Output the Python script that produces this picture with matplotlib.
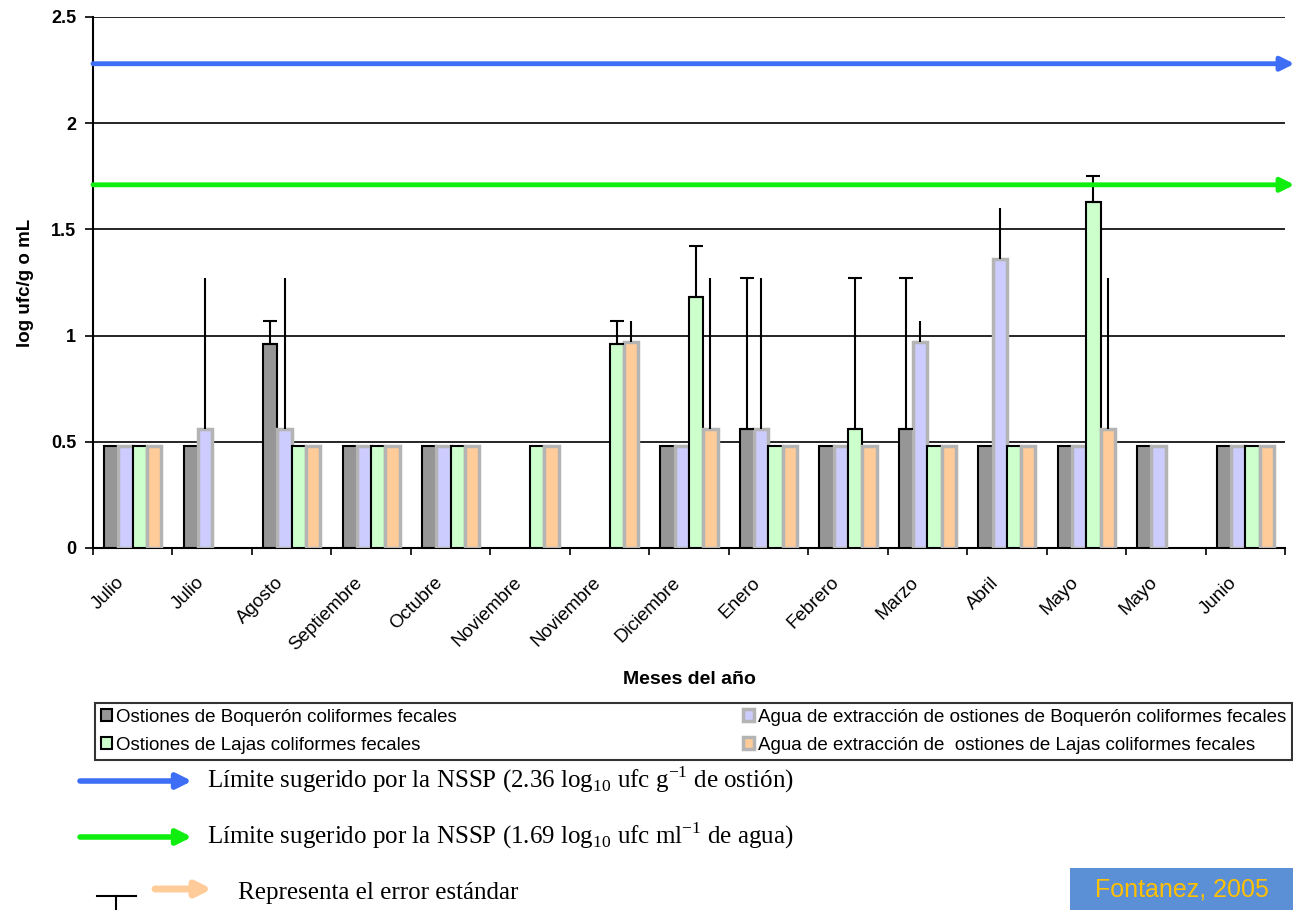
import numpy as np
import matplotlib
matplotlib.use('Agg')
import matplotlib.pyplot as plt
import matplotlib.transforms as mtransforms
from matplotlib.patches import Rectangle, FancyArrowPatch
from matplotlib.lines import Line2D

nan = np.nan

months = ['Julio', 'Julio', 'Agosto', 'Septiembre', 'Octubre', 'Noviembre', 'Noviembre',
          'Diciembre', 'Enero', 'Febrero', 'Marzo', 'Abril', 'Mayo', 'Mayo', 'Junio']

# bar heights (log ufc/g o mL)
ost_boqueron = [0.48, 0.48, 0.96, 0.48, 0.48, nan, nan, 0.48, 0.56, 0.48, 0.56, 0.48, 0.48, 0.48, 0.48]
agua_boqueron = [0.48, 0.56, 0.56, 0.48, 0.48, nan, nan, 0.48, 0.56, 0.48, 0.97, 1.36, 0.48, 0.48, 0.48]
ost_lajas = [0.48, nan, 0.48, 0.48, 0.48, 0.48, 0.96, 1.18, 0.48, 0.56, 0.48, 0.48, 1.63, nan, 0.48]
agua_lajas = [0.48, nan, 0.48, 0.48, 0.48, 0.48, 0.97, 0.56, 0.48, 0.48, 0.48, 0.48, 0.56, nan, 0.48]

# top of the standard error whiskers
err_ost_boqueron = [nan, nan, 1.07, nan, nan, nan, nan, nan, 1.27, nan, 1.27, nan, nan, nan, nan]
err_agua_boqueron = [nan, 1.27, 1.27, nan, nan, nan, nan, nan, 1.27, nan, 1.07, 1.60, nan, nan, nan]
err_ost_lajas = [nan, nan, nan, nan, nan, nan, 1.07, 1.42, nan, 1.27, nan, nan, 1.75, nan, nan]
err_agua_lajas = [nan, nan, nan, nan, nan, nan, 1.07, 1.27, nan, nan, nan, nan, 1.27, nan, nan]

limite_ostion = 2.28
limite_agua = 1.71

labels = ['Ostiones de Boquerón coliformes fecales',
          'Agua de extracción de ostiones de Boquerón coliformes fecales',
          'Ostiones de Lajas coliformes fecales',
          'Agua de extracción de  ostiones de Lajas coliformes fecales']

plt.rcParams['font.family'] = ['Liberation Sans', 'DejaVu Sans']
plt.rcParams['mathtext.fontset'] = 'custom'
plt.rcParams['mathtext.rm'] = 'Liberation Serif'

fig = plt.figure(figsize=(12.93, 9.10), dpi=100)
ax = fig.add_axes([93 / 1293, 1 - 548 / 910, (1285 - 93) / 1293, (548 - 17) / 910])

x = np.arange(len(months))
w = 0.18
series = [
    (ost_boqueron, err_ost_boqueron, '#969696', 'black', 1.5, True),
    (agua_boqueron, err_agua_boqueron, '#CCCCFF', '#B4B4B4', 2.5, False),
    (ost_lajas, err_ost_lajas, '#CCFFCC', 'black', 1.5, True),
    (agua_lajas, err_agua_lajas, '#FFCC99', '#B4B4B4', 2.5, False),
]
handles = []
for i, (vals, tops, fc, ec, lw, cap) in enumerate(series):
    pos = x + (i - 1.5) * w
    vals = np.array(vals)
    tops = np.array(tops)
    b = ax.bar(pos, vals, width=w, color=fc, edgecolor=ec, linewidth=lw, zorder=3)
    handles.append(b)
    m = ~np.isnan(tops)
    up = tops[m] - vals[m]
    ax.errorbar(pos[m], vals[m], yerr=[np.zeros_like(up), up], fmt='none',
                ecolor='black', elinewidth=1.5, capsize=5 if cap else 0,
                capthick=1.5, zorder=4)

ax.set_xlim(-0.5, len(months) - 0.5)
ax.set_ylim(0, 2.5)
ax.set_yticks([0, 0.5, 1, 1.5, 2, 2.5])
ax.set_yticklabels(['0', '0.5', '1', '1.5', '2', '2.5'], fontsize=13, fontweight='bold')
ax.yaxis.grid(True, color='black', linewidth=1.2, zorder=1)
ax.set_axisbelow(True)

# month labels: rotated and pulled a little left of the group centre
ax.set_xticks(x)
ax.set_xticklabels([])
ax.tick_params(axis='x', length=0)
shift = mtransforms.ScaledTranslation(-17 / 100, -26 / 100, fig.dpi_scale_trans)
for xi, name in zip(x, months):
    ax.text(xi, 0, name, transform=ax.get_xaxis_transform() + shift,
            rotation=45, ha='right', va='top', rotation_mode='anchor', fontsize=13.5)

ax.set_xticks(np.arange(-0.5, len(months), 1), minor=True)
ax.tick_params(axis='x', which='minor', length=5, width=1.2, direction='out')
ax.tick_params(axis='y', length=6, width=1.2, direction='out', pad=6)
for s in ['top', 'right']:
    ax.spines[s].set_visible(False)
ax.spines['left'].set_linewidth(1.5)
ax.spines['bottom'].set_linewidth(1.5)

ax.set_ylabel('log ufc/g o mL', fontsize=13.5, fontweight='bold', labelpad=12)
ax.set_xlabel('Meses del año', fontsize=14, fontweight='bold')
ax.xaxis.set_label_coords(0.5, -123 / 531)

# NSSP limit arrows across the plot
for yv, col in [(limite_ostion, '#3d6ef5'), (limite_agua, '#10ee10')]:
    ax.annotate('', xy=(1.008, yv), xycoords=('axes fraction', 'data'),
                xytext=(0.0, yv), textcoords=('axes fraction', 'data'),
                arrowprops=dict(arrowstyle='-|>', color=col, lw=3.5, mutation_scale=20,
                                shrinkA=0, shrinkB=0), zorder=5, annotation_clip=False)

leg = fig.legend([handles[0], handles[2], handles[1], handles[3]],
                 [labels[0], labels[2], labels[1], labels[3]],
                 ncol=2, loc='upper left', mode='expand',
                 bbox_to_anchor=(95 / 1293, 1 - 703 / 910, (1292 - 95) / 1293, 0),
                 fontsize=13.5, frameon=True, fancybox=False, edgecolor='black',
                 handlelength=0.6, handleheight=0.6, handletextpad=0.2,
                 borderpad=0.3, labelspacing=0.6, borderaxespad=0)
leg.get_frame().set_linewidth(1.5)

# explanatory arrows below the legend
def fig_arrow(x0, x1, yp, col, lw, ms):
    a = FancyArrowPatch((x0 / 1293, 1 - yp / 910), (x1 / 1293, 1 - yp / 910),
                        transform=fig.transFigure, arrowstyle='-|>', color=col,
                        lw=lw, mutation_scale=ms, shrinkA=0, shrinkB=0)
    fig.patches.append(a)

fig_arrow(80, 192, 781, '#3d6ef5', 4, 22)
fig_arrow(80, 192, 837, '#10ee10', 4, 22)
fig_arrow(155, 212, 889, '#FFCC99', 5, 22)

fig.text(207 / 1293, 1 - 780 / 910,
         'Límite sugerido por la NSSP (2.36 log$_{10}$ ufc g$^{-1}$ de ostión)',
         family='Liberation Serif', fontsize=18, va='center')
fig.text(207 / 1293, 1 - 836 / 910,
         'Límite sugerido por la NSSP (1.69 log$_{10}$ ufc ml$^{-1}$ de agua)',
         family='Liberation Serif', fontsize=18, va='center')
fig.text(238 / 1293, 1 - 893 / 910, 'Representa el error estándar',
         family='Liberation Serif', fontsize=18, va='center')

fig.lines.append(Line2D([97 / 1293, 136 / 1293], [1 - 896 / 910, 1 - 896 / 910],
                        transform=fig.transFigure, color='black', lw=1.5))
fig.lines.append(Line2D([116 / 1293, 116 / 1293], [1 - 896 / 910, 0],
                        transform=fig.transFigure, color='black', lw=1.5))

fig.patches.append(Rectangle((1070 / 1293, 0), (1293 - 1070) / 1293, 42 / 910,
                             transform=fig.transFigure, facecolor='#5b8fd6', edgecolor='none'))
fig.text((1070 + 1293) / 2 / 1293, 21 / 910, 'Fontanez, 2005', color='#ffc000',
         fontsize=18, ha='center', va='center')

fig.savefig('out.png', dpi=100)
